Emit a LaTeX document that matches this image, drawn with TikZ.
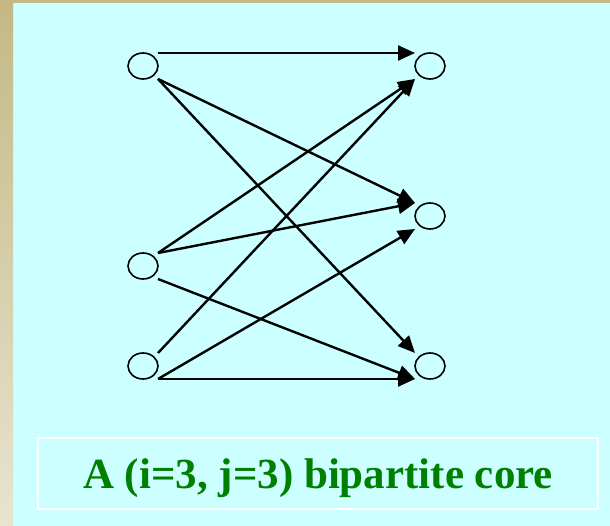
\documentclass[tikz,border=0pt]{standalone}
\usepackage{fontspec}
\setmainfont{Liberation Serif}
\usetikzlibrary{shapes.geometric,arrows.meta}
\definecolor{panel}{HTML}{CCFFFF}
\definecolor{tan}{HTML}{C4B884}
\definecolor{tanlight}{HTML}{E8E4D0}
\definecolor{tgreen}{HTML}{008000}
\tikzset{
  vert/.style={ellipse,draw=black,line width=1.6pt,minimum width=30pt,minimum height=26pt,inner sep=0pt,outer sep=0pt},
  arr/.style={line width=2.4pt,-{Triangle[length=17pt,width=15pt]}},
  capbox/.style={draw=white,line width=2pt,minimum width=560pt,minimum height=71pt,inner sep=0pt},
  captext/.style={inner sep=0pt,text=tgreen,font=\fontsize{43pt}{47pt}\selectfont\bfseries}
}
\begin{document}
\begin{tikzpicture}[x=1pt,y=-1pt]
\useasboundingbox (0,0) rectangle (610,526);
% background
\fill[panel] (0,0) rectangle (610,526);
\fill[tan] (0,0) rectangle (610,3.3);
\shade[top color=tan,bottom color=tanlight] (0,0) rectangle (13,526);
% vertices
\node[vert] (L1) at (143,66) {};
\node[vert] (L2) at (143,266) {};
\node[vert] (L3) at (143,366) {};
\node[vert] (R1) at (430,66) {};
\node[vert] (R2) at (430,216) {};
\node[vert] (R3) at (430,366) {};
% edges
\draw[arr] (L1.east |- L1.north) -- (R1.west |- R1.north);
\draw[arr] (L1.east |- L1.south) -- (R2.west |- R2.north);
\draw[arr] (L1.east |- L1.south) -- (R3.west |- R3.north);
\draw[arr] (L2.east |- L2.north) -- (R1.west |- R1.south);
\draw[arr] (L2.east |- L2.north) -- (R2.west |- R2.north);
\draw[arr] (L2.east |- L2.south) -- (R3.west |- R3.south);
\draw[arr] (L3.east |- L3.north) -- (R1.west |- R1.south);
\draw[arr] (L3.east |- L3.south) -- (R2.west |- R2.south);
\draw[arr] (L3.east |- L3.south) -- (R3.west |- R3.south);
% caption
\node[capbox] (cap) at (318,473) {};
\node[captext,anchor=base] (captxt) at (318,488) {A (i=3, j=3) bipartite core};
\end{tikzpicture}
\end{document}
